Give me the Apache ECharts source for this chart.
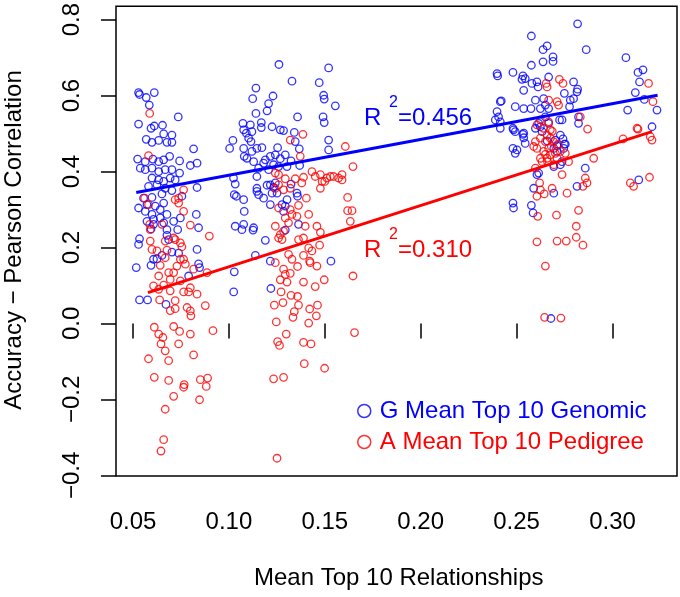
<!DOCTYPE html>
<html>
<head>
<meta charset="utf-8">
<script src="https://cdn.jsdelivr.net/npm/echarts@6/dist/echarts.min.js"></script>
<style>html,body{margin:0;padding:0;background:#fff}#c{width:680px;height:597px}</style>
</head>
<body>
<div id="c"></div>
<script>
// ---- data ----
const xTicks = [0.05, 0.10, 0.15, 0.20, 0.25, 0.30];
const yTicks = [-0.4, -0.2, 0.0, 0.2, 0.4, 0.6, 0.8];
const seriesNames = ['G Mean Top 10 Genomic', 'A Mean Top 10 Pedigree'];
const r2Labels = ['0.456', '0.310'];

const genomic = [
[0.0529,0.608],[0.0534,0.603],[0.0569,0.595],[0.0611,0.608],[0.0585,0.575],[0.0736,0.544],[0.0529,0.525],[0.0594,0.514],[0.0611,0.520],[0.0654,0.522],[0.0660,0.499],[0.0703,0.496],[0.0569,0.485],[0.0599,0.477],[0.0634,0.482],[0.0677,0.477],[0.0703,0.477],[0.0816,0.460],[0.0524,0.433],[0.0564,0.426],[0.0604,0.433],[0.0634,0.426],[0.0660,0.431],[0.0691,0.440],[0.0743,0.428],[0.0799,0.416],[0.0834,0.422],[0.0538,0.409],[0.0564,0.405],[0.0599,0.409],[0.0634,0.400],[0.0668,0.405],[0.0703,0.405],[0.0743,0.396],[0.0599,0.383],[0.0634,0.378],[0.0660,0.374],[0.0694,0.383],[0.0720,0.378],[0.0581,0.361],[0.0625,0.365],[0.0668,0.356],[0.0834,0.358],[0.0703,0.350],[0.0555,0.330],[0.0599,0.332],[0.0651,0.341],[0.0755,0.335],[0.0529,0.304],[0.0573,0.313],[0.0616,0.309],[0.0660,0.317],[0.0642,0.300],[0.0564,0.295],[0.0599,0.287],[0.0677,0.287],[0.0607,0.274],[0.0642,0.278],[0.0830,0.287],[0.0573,0.269],[0.0607,0.261],[0.0660,0.265],[0.0712,0.269],[0.0747,0.278],[0.0842,0.252],[0.0594,0.249],[0.0677,0.247],[0.0733,0.247],[0.0534,0.223],[0.0529,0.208],[0.0677,0.232],[0.0686,0.221],[0.0834,0.195],[0.0703,0.188],[0.0738,0.185],[0.0651,0.179],[0.0625,0.170],[0.0607,0.169],[0.0517,0.147],[0.0594,0.153],[0.0842,0.157],[0.0847,0.147],[0.0790,0.125],[0.0534,0.062],[0.0576,0.062],[0.0672,0.050],
[0.1261,0.682],[0.1520,0.673],[0.1329,0.638],[0.1471,0.634],[0.1141,0.620],[0.1124,0.592],[0.1230,0.599],[0.1494,0.601],[0.1497,0.591],[0.1555,0.573],[0.1207,0.579],[0.1199,0.560],[0.1141,0.553],[0.1358,0.544],[0.1491,0.544],[0.1497,0.529],[0.1073,0.527],[0.1112,0.523],[0.1169,0.529],[0.1169,0.516],[0.1077,0.510],[0.1091,0.501],[0.1120,0.505],[0.1103,0.488],[0.1225,0.518],[0.1268,0.510],[0.1285,0.508],[0.1341,0.503],[0.1021,0.482],[0.1004,0.461],[0.1077,0.461],[0.1120,0.453],[0.1146,0.461],[0.1172,0.463],[0.1115,0.479],[0.1346,0.479],[0.1367,0.460],[0.1520,0.483],[0.1520,0.457],[0.1080,0.440],[0.1094,0.435],[0.1190,0.431],[0.1216,0.440],[0.1242,0.444],[0.1254,0.463],[0.1294,0.444],[0.1324,0.428],[0.1129,0.426],[0.1181,0.422],[0.1268,0.434],[0.1259,0.413],[0.1369,0.416],[0.1303,0.413],[0.1233,0.418],[0.1155,0.409],[0.1207,0.405],[0.1146,0.387],[0.1024,0.383],[0.1033,0.367],[0.1146,0.356],[0.1199,0.364],[0.1216,0.365],[0.1233,0.358],[0.1242,0.370],[0.1324,0.367],[0.1225,0.343],[0.1251,0.343],[0.1028,0.339],[0.1039,0.335],[0.1077,0.326],[0.1146,0.348],[0.1155,0.339],[0.1181,0.330],[0.1355,0.343],[0.1358,0.335],[0.1303,0.326],[0.1080,0.295],[0.1216,0.313],[0.1277,0.313],[0.1294,0.309],[0.1285,0.295],[0.1033,0.256],[0.1077,0.261],[0.1129,0.252],[0.1363,0.261],[0.1068,0.247],[0.1126,0.246],[0.1294,0.246],[0.1190,0.219],[0.1138,0.179],[0.1216,0.164],[0.1532,0.164],[0.1028,0.136],[0.1025,0.083],[0.1219,0.092],
[0.2818,0.789],[0.2577,0.757],[0.2863,0.721],[0.2638,0.721],[0.2659,0.731],[0.3070,0.700],[0.2638,0.689],[0.2690,0.702],[0.2690,0.690],[0.2577,0.680],[0.3133,0.661],[0.3159,0.668],[0.3141,0.636],[0.2398,0.658],[0.2401,0.652],[0.2481,0.661],[0.2533,0.652],[0.2545,0.645],[0.2528,0.643],[0.2606,0.636],[0.2667,0.649],[0.2612,0.623],[0.2580,0.632],[0.2537,0.614],[0.2797,0.636],[0.2818,0.617],[0.2815,0.610],[0.2749,0.606],[0.2780,0.588],[0.2797,0.592],[0.2598,0.588],[0.2641,0.592],[0.2650,0.575],[0.2624,0.566],[0.2420,0.586],[0.2493,0.571],[0.2537,0.566],[0.2575,0.566],[0.2776,0.571],[0.3119,0.608],[0.3166,0.590],[0.3079,0.562],[0.3232,0.562],[0.2398,0.558],[0.2389,0.536],[0.2415,0.531],[0.2415,0.514],[0.2406,0.544],[0.2615,0.527],[0.2624,0.518],[0.2667,0.527],[0.2724,0.536],[0.2737,0.536],[0.2667,0.566],[0.2650,0.544],[0.2823,0.544],[0.2823,0.527],[0.2481,0.514],[0.2493,0.505],[0.2533,0.498],[0.2537,0.489],[0.2545,0.474],[0.2481,0.461],[0.2493,0.448],[0.2502,0.457],[0.3206,0.518],[0.2728,0.496],[0.2742,0.486],[0.2749,0.472],[0.2746,0.461],[0.2711,0.468],[0.2659,0.481],[0.2711,0.453],[0.2728,0.418],[0.2694,0.413],[0.2737,0.426],[0.2615,0.396],[0.2606,0.392],[0.2858,0.409],[0.2589,0.356],[0.2694,0.343],[0.2815,0.361],[0.3137,0.378],[0.2481,0.317],[0.2484,0.304],[0.2577,0.311],[0.2586,0.291],[0.2679,0.013],[0.2598,0.514],[0.2633,0.505],[0.2694,0.461],[0.2702,0.483],[0.2754,0.472],[0.2415,0.584],[0.2484,0.510],[0.2537,0.501]
];

const pedigree = [
[0.0587,0.553],[0.0581,0.442],[0.0764,0.352],[0.0720,0.326],[0.0738,0.330],[0.0738,0.317],[0.0764,0.295],[0.0587,0.261],[0.0651,0.261],[0.0799,0.259],[0.0898,0.230],[0.0590,0.217],[0.0668,0.217],[0.0720,0.221],[0.0747,0.212],[0.0755,0.202],[0.0599,0.195],[0.0625,0.191],[0.0677,0.193],[0.0668,0.173],[0.0747,0.169],[0.0764,0.169],[0.0642,0.153],[0.0729,0.151],[0.0773,0.156],[0.0816,0.143],[0.0886,0.134],[0.0634,0.125],[0.0686,0.134],[0.0712,0.134],[0.0694,0.116],[0.0747,0.112],[0.0607,0.099],[0.0660,0.101],[0.0634,0.090],[0.0694,0.086],[0.0764,0.083],[0.0790,0.083],[0.0834,0.077],[0.0799,0.094],[0.0639,0.062],[0.0720,0.060],[0.0877,0.047],[0.0694,0.034],[0.0720,0.039],[0.0782,0.042],[0.0799,0.033],[0.0802,0.020],[0.0611,-0.010],[0.0712,-0.008],[0.0743,-0.021],[0.0799,-0.028],[0.0917,-0.019],[0.0634,-0.028],[0.0656,-0.037],[0.0646,-0.054],[0.0738,-0.054],[0.0668,-0.072],[0.0816,-0.083],[0.0581,-0.093],[0.0686,-0.098],[0.0611,-0.142],[0.0686,-0.150],[0.0851,-0.148],[0.0889,-0.144],[0.0767,-0.161],[0.0764,-0.168],[0.0882,-0.166],[0.0712,-0.192],[0.0847,-0.201],[0.0668,-0.226],[0.0660,-0.306],[0.0646,-0.336],[0.0561,0.330],[0.0581,0.313],[0.0590,0.247],[0.0712,0.225],
[0.1386,0.498],[0.1320,0.483],[0.1607,0.466],[0.1372,0.440],[0.1647,0.413],[0.1242,0.396],[0.1259,0.392],[0.1294,0.381],[0.1433,0.400],[0.1450,0.387],[0.1511,0.383],[0.1529,0.387],[0.1590,0.392],[0.1590,0.378],[0.1486,0.374],[0.1477,0.356],[0.1389,0.385],[0.1380,0.370],[0.1242,0.356],[0.1259,0.365],[0.1285,0.352],[0.1320,0.356],[0.1346,0.381],[0.1404,0.330],[0.1363,0.311],[0.1619,0.332],[0.1619,0.297],[0.1642,0.297],[0.1259,0.304],[0.1320,0.300],[0.1329,0.287],[0.1416,0.287],[0.1294,0.278],[0.1355,0.282],[0.1633,0.269],[0.1242,0.256],[0.1311,0.265],[0.1398,0.256],[0.1459,0.256],[0.1268,0.234],[0.1277,0.221],[0.1259,0.225],[0.1285,0.243],[0.1477,0.240],[0.1363,0.221],[0.1389,0.225],[0.1416,0.199],[0.1433,0.191],[0.1473,0.206],[0.1424,0.160],[0.1459,0.151],[0.1389,0.179],[0.1311,0.182],[0.1329,0.169],[0.1242,0.160],[0.1285,0.143],[0.1294,0.129],[0.1320,0.132],[0.1358,0.150],[0.1421,0.164],[0.1268,0.115],[0.1303,0.109],[0.1389,0.109],[0.1450,0.097],[0.1497,0.115],[0.1647,0.125],[0.1272,0.083],[0.1282,0.055],[0.1237,0.048],[0.1324,0.074],[0.1358,0.071],[0.1363,0.048],[0.1341,0.031],[0.1334,0.016],[0.1421,0.038],[0.1462,0.048],[0.1456,0.020],[0.1416,0.001],[0.1247,0.004],[0.1299,-0.028],[0.1254,-0.048],[0.1264,-0.058],[0.1389,-0.050],[0.1428,-0.054],[0.1393,-0.106],[0.1499,-0.118],[0.1233,-0.146],[0.1285,-0.142],[0.1655,-0.024],[0.1251,-0.355],[0.1477,0.392],[0.1500,0.374],[0.1546,0.387],[0.1572,0.383],
[0.2723,0.643],[0.2742,0.632],[0.2659,0.623],[0.3188,0.632],[0.3211,0.584],[0.2667,0.588],[0.2711,0.584],[0.2719,0.575],[0.2624,0.536],[0.2832,0.544],[0.2870,0.512],[0.3128,0.514],[0.3197,0.492],[0.3206,0.483],[0.3055,0.486],[0.2606,0.523],[0.2641,0.514],[0.2676,0.510],[0.2659,0.496],[0.2624,0.488],[0.2650,0.479],[0.2676,0.488],[0.2693,0.479],[0.2667,0.461],[0.2641,0.453],[0.2676,0.444],[0.2702,0.448],[0.2728,0.453],[0.2606,0.461],[0.2589,0.466],[0.2624,0.435],[0.2659,0.435],[0.2711,0.435],[0.2754,0.448],[0.2771,0.426],[0.2902,0.435],[0.2633,0.426],[0.2694,0.418],[0.2598,0.409],[0.2737,0.392],[0.2858,0.383],[0.2867,0.370],[0.2846,0.361],[0.2620,0.370],[0.2624,0.352],[0.2644,0.341],[0.2606,0.335],[0.2685,0.356],[0.2763,0.343],[0.3093,0.370],[0.3110,0.361],[0.3193,0.385],[0.2610,0.282],[0.2708,0.285],[0.2823,0.298],[0.2811,0.256],[0.2811,0.227],[0.2846,0.206],[0.2606,0.215],[0.2711,0.217],[0.2759,0.217],[0.2650,0.151],[0.2646,0.016],[0.2731,0.014],[0.2667,0.531],[0.2681,0.466],[0.2650,0.445],[0.2716,0.472],[0.2661,0.426],[0.2686,0.506],[0.2598,0.479],[0.2654,0.632],[0.3133,0.512]
];

// fitted regression line end points
const lineG = [[0.0517, 0.345], [0.3235, 0.601]];
const lineA = [[0.0578, 0.081], [0.3206, 0.505]];

// ---- chart ----
const FONT = '"Liberation Sans", Arial, Helvetica, sans-serif';
const BLUE = '#0000ff', RED = '#ff0000';
const chart = echarts.init(document.getElementById('c'), null, {renderer: 'canvas'});
const minus = s => s.replace('-', '\u2212');

chart.setOption({
  animation: false,
  backgroundColor: '#fff',
  grid: {left: 116, right: 3, top: 4, bottom: 121, show: true, borderColor: '#000', borderWidth: 1.5, backgroundColor: 'transparent'},
  xAxis: {
    type: 'value', min: 0.04114, max: 0.33363,
    axisLine: {show: false},
    splitLine: {show: false},
    axisTick: {show: true, length: 15, lineStyle: {color: '#000', width: 1.5}, customValues: xTicks},
    axisLabel: {customValues: xTicks, margin: 46, verticalAlign: 'middle', fontSize: 24, fontFamily: FONT, color: '#000',
      formatter: v => v.toFixed(2)}
  },
  yAxis: {
    type: 'value', min: -0.4018, max: 0.8354,
    axisLine: {show: false},
    splitLine: {show: false},
    axisTick: {show: true, length: 15, lineStyle: {color: '#000', width: 1.5}, customValues: yTicks},
    axisLabel: {customValues: yTicks, rotate: 90, margin: 44, align: 'center', verticalAlign: 'middle', fontSize: 24, fontFamily: FONT, color: '#000',
      formatter: v => minus(v.toFixed(1))}
  },
  legend: {
    orient: 'vertical', left: 352, top: 394, itemWidth: 21, itemHeight: 13, itemGap: 7,
    selectedMode: false, icon: 'circle',
    textStyle: {fontSize: 24, fontFamily: FONT},
    data: [
      {name: seriesNames[0], textStyle: {color: BLUE}, itemStyle: {color: 'rgba(0,0,0,0)', borderColor: BLUE, borderWidth: 1.5}},
      {name: seriesNames[1], textStyle: {color: RED}, itemStyle: {color: 'rgba(0,0,0,0)', borderColor: RED, borderWidth: 1.5}}
    ]
  },
  graphic: [
    {type: 'text', left: 'center', style: {text: 'Mean Top 10 Relationships', x: 0, y: 0, font: '24px ' + FONT, fill: '#000'}, position: [0,0], z: 10,
      left: 396 - 142, top: 566},
    {type: 'text', rotation: Math.PI / 2, x: 2, y: 240, style: {text: 'Accuracy \u2212 Pearson Correlation', font: '24px ' + FONT, fill: '#000', align: 'center', verticalAlign: 'top'}, z: 10},
    {type: 'text', x: 364, y: 118, style: {text: 'R', font: '24px ' + FONT, fill: BLUE, align: 'left', verticalAlign: 'middle'}},
    {type: 'text', x: 389, y: 103, style: {text: '2', font: '16px ' + FONT, fill: BLUE, align: 'left', verticalAlign: 'middle'}},
    {type: 'text', x: 398, y: 118, style: {text: '=' + r2Labels[0], font: '24px ' + FONT, fill: BLUE, align: 'left', verticalAlign: 'middle'}},
    {type: 'text', x: 364, y: 250, style: {text: 'R', font: '24px ' + FONT, fill: RED, align: 'left', verticalAlign: 'middle'}},
    {type: 'text', x: 389, y: 235, style: {text: '2', font: '16px ' + FONT, fill: RED, align: 'left', verticalAlign: 'middle'}},
    {type: 'text', x: 398, y: 250, style: {text: '=' + r2Labels[1], font: '24px ' + FONT, fill: RED, align: 'left', verticalAlign: 'middle'}}
  ],
  series: [
    {name: seriesNames[0], type: 'scatter', data: genomic, symbol: 'circle', symbolSize: 7.5,
      itemStyle: {color: 'rgba(0,0,0,0)', borderColor: BLUE, borderWidth: 1.3}, emphasis: {disabled: true}},
    {name: seriesNames[1], type: 'scatter', data: pedigree, symbol: 'circle', symbolSize: 7.5,
      itemStyle: {color: 'rgba(0,0,0,0)', borderColor: RED, borderWidth: 1.3}, emphasis: {disabled: true}},
    {name: 'fitG', type: 'line', data: lineG, symbol: 'none', lineStyle: {color: BLUE, width: 3}, emphasis: {disabled: true}, z: 3},
    {name: 'fitA', type: 'line', data: lineA, symbol: 'none', lineStyle: {color: RED, width: 3}, emphasis: {disabled: true}, z: 3}
  ]
});
</script>
</body>
</html>
